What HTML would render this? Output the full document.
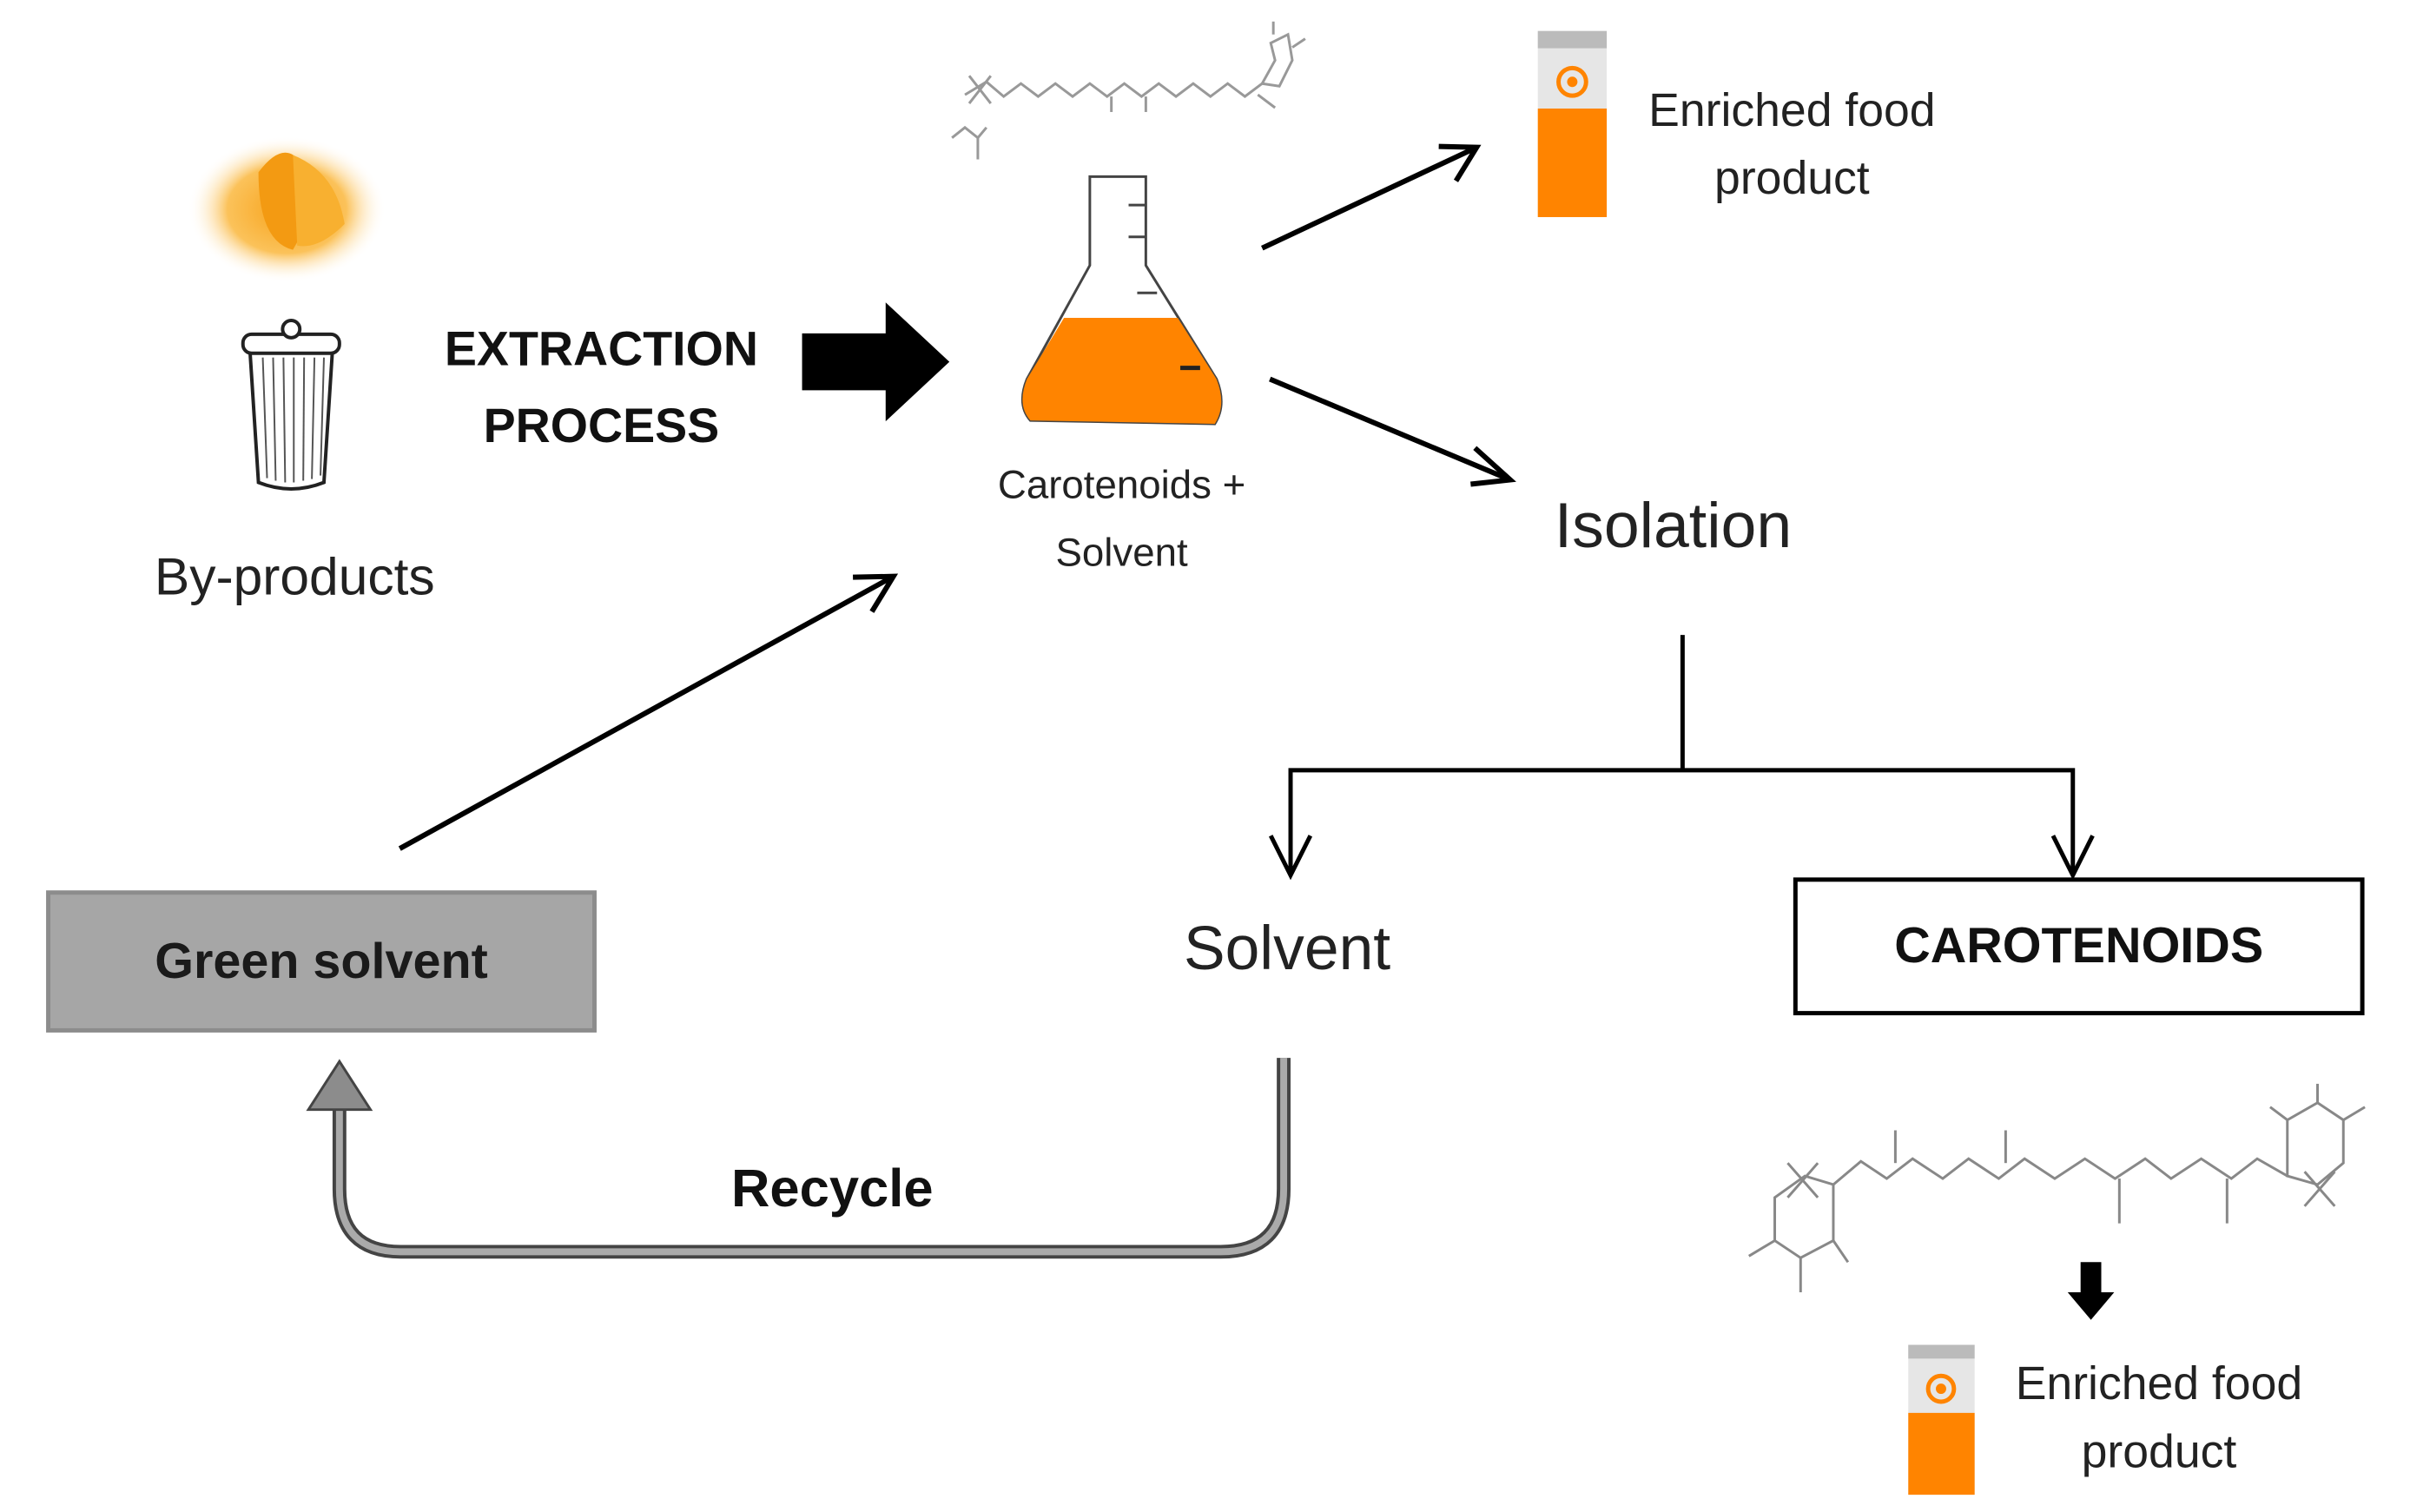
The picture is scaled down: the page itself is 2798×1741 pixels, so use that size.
<!DOCTYPE html>
<html><head><meta charset="utf-8"><style>
html,body{margin:0;padding:0;background:#fff;}
svg{display:block;}
text{font-family:"Liberation Sans",sans-serif;}
</style></head><body>
<svg width="2798" height="1741" viewBox="0 0 2798 1741" xmlns="http://www.w3.org/2000/svg">
<defs>
<radialGradient id="peel" cx="50%" cy="50%" r="50%">
<stop offset="0" stop-color="#f7a21a"/><stop offset="0.6" stop-color="#fbc25a"/><stop offset="1" stop-color="#fff" stop-opacity="0"/>
</radialGradient>
</defs>
<g transform="scale(0.992)">
<!-- orange peel -->
<ellipse cx="333" cy="243" rx="115" ry="85" fill="url(#peel)"/>
<path d="M300 200 Q330 160 350 190 Q370 240 340 290 Q300 280 300 200Z" fill="#f39a12"/>
<path d="M340 180 Q390 200 400 260 Q370 290 345 285Z" fill="#f8b030"/>
<!-- trash can -->
<g stroke="#222" stroke-width="4" fill="#fff">
<path d="M290 405 L300 560 Q338 575 376 560 L386 405Z"/>
<rect x="282" y="388" width="112" height="22" rx="10"/>
<circle cx="338" cy="382" r="10"/>
</g>
<g stroke="#555" stroke-width="2">
<line x1="305" y1="415" x2="310" y2="555"/><line x1="317" y1="415" x2="320" y2="558"/><line x1="329" y1="415" x2="331" y2="560"/><line x1="341" y1="415" x2="341" y2="560"/><line x1="353" y1="415" x2="352" y2="558"/><line x1="365" y1="415" x2="362" y2="556"/><line x1="376" y1="415" x2="372" y2="552"/>
</g>
<text x="342" y="690" font-size="61" text-anchor="middle" fill="#222">By-products</text>
<text x="698" y="424" font-size="56" font-weight="bold" text-anchor="middle" fill="#111">EXTRACTION</text>
<text x="698" y="513" font-size="56" font-weight="bold" text-anchor="middle" fill="#111">PROCESS</text>
<!-- big arrow -->
<path d="M931 387 L1028 387 L1028 351 L1102 420 L1028 489 L1028 453 L931 453Z" fill="#000"/>
<!-- molecule top -->
<g stroke="#999" stroke-width="3" fill="none">
<polyline points="1120,110 1145,95 1165,112 1185,97 1205,112 1225,97 1245,112 1265,97 1285,112 1305,97 1325,112 1345,97 1365,112 1385,97 1405,112 1425,97 1445,112 1465,97"/>
<line x1="1125" y1="88" x2="1150" y2="120"/><line x1="1150" y1="88" x2="1125" y2="120"/>
<polyline points="1465,97 1480,70 1475,50 1495,40 1500,70 1485,100 1465,97"/>
<line x1="1478" y1="40" x2="1478" y2="25"/><line x1="1500" y1="55" x2="1515" y2="45"/>
<line x1="1460" y1="110" x2="1480" y2="125"/>
<line x1="1330" y1="112" x2="1330" y2="130"/><line x1="1290" y1="112" x2="1290" y2="130"/>
<polyline points="1105,160 1120,148 1135,160 1145,148"/><line x1="1135" y1="160" x2="1135" y2="185"/>
</g>
<!-- flask -->
<path d="M1196 488 Q1180 470 1192 440 L1265 308 L1265 205 L1330 205 L1330 308 L1412 440 Q1424 470 1410 492Z" fill="#fff" stroke="#444" stroke-width="3"/>
<path d="M1196 488 Q1180 470 1192 440 L1235 369 L1367 369 L1412 440 Q1424 470 1410 492Z" fill="#ff8400"/>
<g stroke="#444" stroke-width="3"><line x1="1310" y1="238" x2="1330" y2="238"/><line x1="1310" y1="275" x2="1330" y2="275"/><line x1="1320" y1="340" x2="1343" y2="340"/></g>
<line x1="1370" y1="427" x2="1393" y2="427" stroke="#222" stroke-width="5"/>
<text x="1302" y="578" font-size="46" text-anchor="middle" fill="#222">Carotenoids +</text>
<text x="1302" y="657" font-size="46" text-anchor="middle" fill="#222">Solvent</text>
<!-- arrows from flask -->
<g stroke="#000" stroke-width="6" fill="none">
<line x1="1465" y1="288" x2="1714" y2="171"/><polyline points="1670,170 1714,171 1690,210"/>
<line x1="1474" y1="440" x2="1753" y2="557"/><polyline points="1712,520 1753,557 1707,562"/>
</g>
<!-- carton top -->
<rect x="1785" y="36" width="80" height="216" fill="#e6e6e6"/>
<rect x="1785" y="36" width="80" height="20" fill="#bbb"/>
<rect x="1785" y="126" width="80" height="126" fill="#ff8400"/>
<circle cx="1825" cy="95" r="16" fill="none" stroke="#ff8400" stroke-width="5"/><circle cx="1825" cy="95" r="6" fill="#ff8400"/>
<text x="2080" y="146" font-size="54" text-anchor="middle" fill="#222">Enriched food</text>
<text x="2080" y="225" font-size="54" text-anchor="middle" fill="#222">product</text>
<text x="1942" y="635" font-size="74" text-anchor="middle" fill="#222">Isolation</text>
<!-- split -->
<g stroke="#000" stroke-width="5" fill="none">
<line x1="1953" y1="737" x2="1953" y2="895"/>
<polyline points="1498,1016 1498,894 2406,894 2406,1016"/>
<polyline points="1475,970 1498,1016 1521,970"/>
<polyline points="2383,970 2406,1016 2429,970"/>
</g>
<text x="1494" y="1125" font-size="72" text-anchor="middle" fill="#222">Solvent</text>
<rect x="2084" y="1021" width="658" height="155" fill="#fff" stroke="#000" stroke-width="5"/>
<text x="2413" y="1117" font-size="58" font-weight="bold" text-anchor="middle" fill="#111">CAROTENOIDS</text>
<rect x="56" y="1036" width="634" height="160" fill="#a6a6a6" stroke="#8c8c8c" stroke-width="5"/>
<text x="373" y="1135" font-size="58" font-weight="bold" text-anchor="middle" fill="#1a1a1a">Green solvent</text>
<g stroke="#000" stroke-width="6" fill="none">
<line x1="464" y1="985" x2="1037" y2="669"/><polyline points="990,670 1037,669 1012,710"/>
</g>
<!-- recycle -->
<path d="M1490 1228 L1490 1380 Q1490 1453 1417 1453 L465 1453 Q394 1453 394 1380 L394 1286" fill="none" stroke="#444" stroke-width="16"/>
<path d="M1490 1228 L1490 1380 Q1490 1453 1417 1453 L465 1453 Q394 1453 394 1380 L394 1286" fill="none" stroke="#aaa" stroke-width="8"/>
<path d="M358 1288 L394 1232 L430 1288Z" fill="#8c8c8c" stroke="#444" stroke-width="3"/>
<text x="966" y="1400" font-size="62" font-weight="bold" text-anchor="middle" fill="#111">Recycle</text>
<!-- bottom molecule -->
<g stroke="#888" stroke-width="3" fill="none">
<polyline points="2128,1375 2160,1348 2190,1368 2220,1345 2255,1368 2285,1345 2320,1368 2350,1345 2385,1368 2420,1345 2455,1368 2490,1345 2520,1368 2555,1345 2590,1368 2620,1345 2655,1365"/>
<line x1="2200" y1="1350" x2="2200" y2="1312"/><line x1="2328" y1="1350" x2="2328" y2="1312"/><line x1="2460" y1="1368" x2="2460" y2="1420"/><line x1="2585" y1="1368" x2="2585" y2="1420"/>
<polygon points="2128,1375 2128,1440 2090,1460 2060,1440 2060,1390 2095,1365"/>
<line x1="2075" y1="1350" x2="2110" y2="1390"/><line x1="2110" y1="1350" x2="2075" y2="1390"/>
<line x1="2090" y1="1460" x2="2090" y2="1500"/><line x1="2060" y1="1440" x2="2030" y2="1458"/><line x1="2128" y1="1440" x2="2145" y2="1465"/>
<polygon points="2655,1365 2655,1300 2690,1280 2720,1300 2720,1350 2690,1375"/>
<line x1="2675" y1="1360" x2="2710" y2="1400"/><line x1="2710" y1="1360" x2="2675" y2="1400"/>
<line x1="2690" y1="1280" x2="2690" y2="1258"/><line x1="2720" y1="1300" x2="2745" y2="1285"/><line x1="2655" y1="1300" x2="2635" y2="1285"/>
</g>
<path d="M2415 1465 L2439 1465 L2439 1500 L2454 1500 L2427 1532 L2400 1500 L2415 1500Z" fill="#000"/>
<!-- bottom carton -->
<rect x="2215" y="1561" width="77" height="174" fill="#e6e6e6"/>
<rect x="2215" y="1561" width="77" height="16" fill="#bbb"/>
<rect x="2215" y="1640" width="77" height="95" fill="#ff8400"/>
<circle cx="2253" cy="1612" r="15" fill="none" stroke="#ff8400" stroke-width="5"/><circle cx="2253" cy="1612" r="6" fill="#ff8400"/>
<text x="2506" y="1624" font-size="54" text-anchor="middle" fill="#222">Enriched food</text>
<text x="2506" y="1703" font-size="54" text-anchor="middle" fill="#222">product</text>
</g>
</svg>
</body></html>
